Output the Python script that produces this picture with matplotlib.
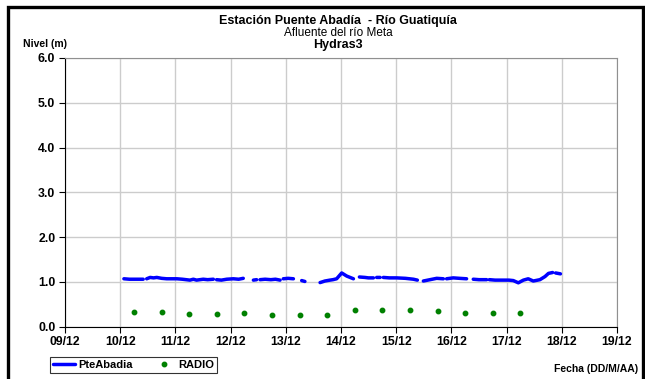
"""
Nivel del río Guatiquía en la estación Puente Abadía (sensor Hydras3),
con las lecturas manuales reportadas por RADIO.

Salida:
  out.png
"""
from datetime import datetime, timedelta

import matplotlib
matplotlib.use("Agg")
import matplotlib.dates as mdates
import matplotlib.pyplot as plt
import numpy as np
from matplotlib.patches import Rectangle

T0 = datetime(2013, 12, 10)

# Serie Hydras3: horas desde 10/12 00:00 y nivel (m); NaN = hueco en el registro
ABADIA_HOURS = [
    1.6, 4, 7, 10, 10.8,
    11.5, 13, 14.5, 15.9, 18, 20.2, 24.6, 27, 30.3, 31.8, 33.2, 36.1, 38, 40.5, 41.2,
    41.9, 44, 46.3, 49.2, 51.5, 53.5, 55,
    57.9, 59.3, 60,
    60.8, 63, 65.5, 67.5, 69.5, 70.2,
    70.9, 73, 75.3, 77,
    78.9, 80.3, 83,
    86.9, 89, 91.2, 92.5, 94.1, 96.3, 98.5, 101.4, 102.5,
    104.0, 106.4, 107.9, 110.1, 110.8,
    111.5, 113, 113.7,
    114.4, 117, 120.2, 124, 127.5, 129.2, 130.5,
    131.8, 134.7, 137.6, 140.5, 141.2,
    141.9, 144.8, 147.5, 150.6, 152,
    153.5, 156, 159.3, 160,
    160.5, 163, 166.5, 169, 170.9, 173.1, 175.3, 177.4, 179.6, 182.5, 184.7,
    186.2, 188, 188.7,
    189.3, 191.4,
]
ABADIA_LEVEL = [
    1.07, 1.06, 1.06, 1.06, np.nan,
    1.07, 1.10, 1.09, 1.10, 1.08, 1.07, 1.07, 1.06, 1.04, 1.06, 1.04, 1.06, 1.05, 1.06, np.nan,
    1.05, 1.04, 1.06, 1.07, 1.06, 1.08, np.nan,
    1.04, 1.05, np.nan,
    1.05, 1.06, 1.05, 1.06, 1.04, np.nan,
    1.07, 1.08, 1.07, np.nan,
    1.03, 1.01, np.nan,
    0.985, 1.02, 1.04, 1.05, 1.07, 1.20, 1.13, 1.07, np.nan,
    1.11, 1.10, 1.09, 1.09, np.nan,
    1.10, 1.10, np.nan,
    1.10, 1.09, 1.09, 1.08, 1.06, 1.04, np.nan,
    1.02, 1.05, 1.08, 1.07, np.nan,
    1.07, 1.09, 1.08, 1.07, np.nan,
    1.06, 1.05, 1.05, np.nan,
    1.05, 1.04, 1.04, 1.04, 1.03, 0.98, 1.04, 1.07, 1.02, 1.05, 1.12,
    1.19, 1.21, np.nan,
    1.20, 1.18,
]

# Lecturas de mira reportadas por radio (06:00 y 18:00)
RADIO_HOURS = [6, 18, 30, 42, 54, 66, 78, 90, 102, 114, 126, 138, 150, 162, 174]
RADIO_LEVEL = [0.32, 0.32, 0.29, 0.29, 0.30, 0.27, 0.27, 0.27,
               0.37, 0.37, 0.37, 0.36, 0.30, 0.30, 0.30]

FONT = ["Liberation Sans", "DejaVu Sans"]
GRID_COLOUR = "#cccccc"


def _to_dates(hours):
    return [T0 + timedelta(hours=float(h)) for h in hours]


def main():
    plt.rcParams["font.family"] = FONT
    fig = plt.figure(figsize=(6.45, 3.79), dpi=100)
    ax = fig.add_axes([0.1008, 0.138, 0.8558, 0.709])

    ax.plot(_to_dates(ABADIA_HOURS), ABADIA_LEVEL, color="#0000ff",
            linewidth=2.5, solid_capstyle="round", label="PteAbadia", zorder=3)
    ax.plot(_to_dates(RADIO_HOURS), RADIO_LEVEL, linestyle="none",
            marker="o", markersize=3.2, color="#008000", label="RADIO", zorder=3)

    ax.set_xlim(T0 - timedelta(days=1), T0 + timedelta(days=9))
    ax.set_ylim(0, 6)
    ax.xaxis.set_major_locator(mdates.DayLocator())
    ax.xaxis.set_major_formatter(mdates.DateFormatter("%d/%m"))
    ax.set_yticks(np.arange(0, 6.01, 1.0))
    ax.yaxis.set_major_formatter(matplotlib.ticker.FormatStrFormatter("%.1f"))

    ax.grid(True, color=GRID_COLOUR, linewidth=1.0)
    ax.set_axisbelow(True)
    for side in ("top", "right"):
        ax.spines[side].set_color("#909090")
    for side in ("left", "bottom"):
        ax.spines[side].set_color("black")
    ax.tick_params(direction="out", length=4, width=0.8, pad=3,
                   labelsize=8.8)
    for lbl in ax.get_xticklabels() + ax.get_yticklabels():
        lbl.set_fontweight("bold")

    # Titulos
    fig.text(0.524, 0.945, "Estación Puente Abadía  - Río Guatiquía",
             ha="center", va="center", fontsize=9, fontweight="bold")
    fig.text(0.524, 0.913, "Afluente del río Meta",
             ha="center", va="center", fontsize=8.5)
    fig.text(0.524, 0.882, "Hydras3",
             ha="center", va="center", fontsize=9, fontweight="bold")
    fig.text(0.036, 0.884, "Nivel (m)", ha="left", va="center",
             fontsize=7.5, fontweight="bold")
    fig.text(0.989, 0.027, "Fecha (DD/M/AA)", ha="right", va="center",
             fontsize=7.5, fontweight="bold")

    leg = fig.legend(loc="lower left", bbox_to_anchor=(0.0775, 0.016),
                     borderaxespad=0.0, ncol=2, frameon=True, fancybox=False,
                     handlelength=2.0, columnspacing=1.9, borderpad=0.25,
                     handletextpad=0.25, prop={"weight": "bold", "size": 8,
                                               "family": FONT})
    leg.get_frame().set_edgecolor("black")
    leg.get_frame().set_linewidth(0.8)

    # Marco exterior del grafico
    fig.patches.append(Rectangle((0.0124, -0.02), 0.9845, 1.0015,
                                 transform=fig.transFigure, fill=False,
                                 edgecolor="black", linewidth=2.4))

    fig.savefig("out.png", dpi=100)
    plt.close(fig)


if __name__ == "__main__":
    main()
